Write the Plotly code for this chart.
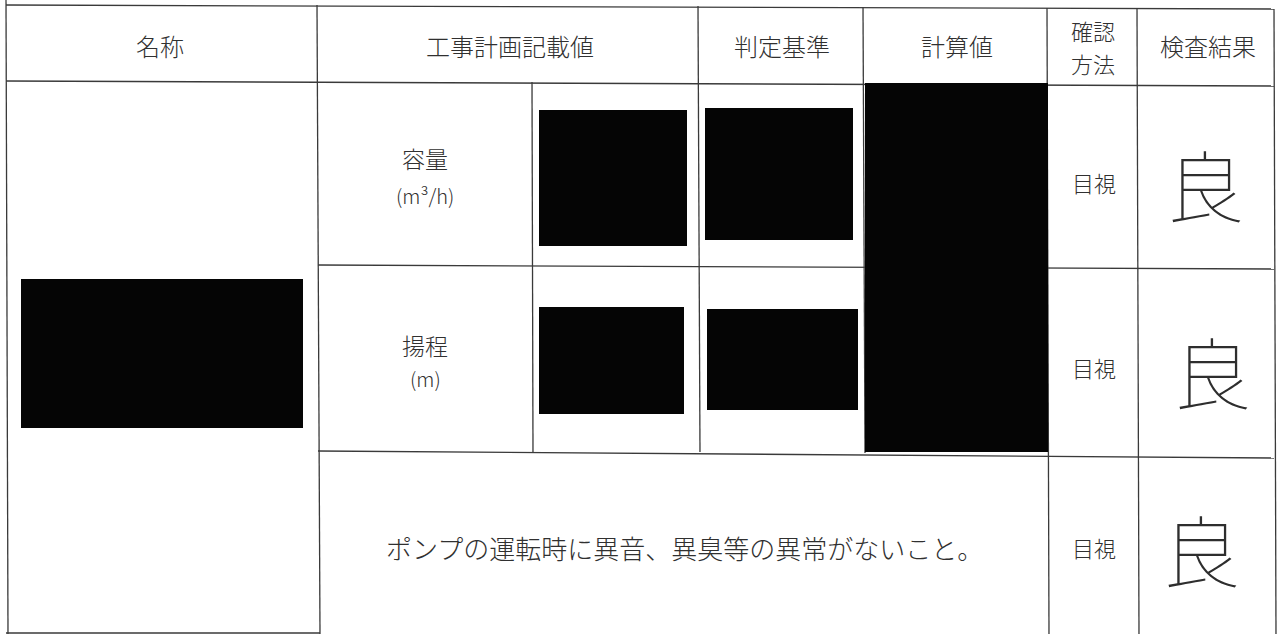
import plotly.graph_objects as go

# ---- table content ----
header_labels = ["名称", "工事計画記載値", "判定基準", "計算値", "検査結果"]
header_method = ["確認", "方法"]
item_names = ["容量", "揚程"]
item_units = ["(m³/h)", "(m)"]
method_labels = ["目視", "目視", "目視"]
result_labels = ["良", "良", "良"]
note_text = "ポンプの運転時に異音、異臭等の異常がないこと。"

W, H = 1279, 634
LINE = "#3a3a3a"
FONT = "Noto Sans CJK JP"
TXT = "#303030"

fig = go.Figure()
shapes = []

def line(x0, y0, x1, y1, w=1.3):
    shapes.append(dict(type="line", xref="x", yref="y", x0=x0, y0=y0, x1=x1, y1=y1,
                       line=dict(color=LINE, width=w)))

def box(x0, y0, x1, y1):
    shapes.append(dict(type="rect", xref="x", yref="y", x0=x0, y0=y0, x1=x1, y1=y1,
                       fillcolor="#050505", line=dict(width=0), layer="above"))

# horizontal rules
line(6, 5, 1274, 9)
line(6, 81, 1274, 86)
line(318, 265, 1274, 269)
line(318, 451, 1274, 458)
line(6, 633, 320, 633)
# vertical rules
line(6, 0, 8, 634)
line(317, 5, 320, 634)
line(532, 82, 533, 452)
line(698, 6, 700, 452)
line(863, 7, 865, 453)
line(1047, 8, 1049, 634)
line(1137, 8, 1139, 634)
line(1274, 9, 1276, 634)

# redacted blocks
box(21, 279, 303, 428)
box(539, 110, 687, 246)
box(705, 108, 853, 240)
box(539, 307, 684, 414)
box(707, 309, 858, 410)
box(865, 83, 1048, 452)

fig.update_layout(shapes=shapes)

ann = []
def text(x, y, t, size=19, color=TXT, weight=300):
    ann.append(dict(x=x, y=y, xref="x", yref="y", text=t, showarrow=False,
                    font=dict(family=FONT, size=size, color=color, weight=weight),
                    xanchor="center", yanchor="middle"))

hx = [160, 510, 782, 957, 1208]
for x, t in zip(hx, header_labels):
    text(x, 45, t, size=24)
text(1093, 30, header_method[0], size=22)
text(1093, 63, header_method[1], size=22)

text(425, 158, item_names[0], size=23)
text(425, 195, item_units[0], size=20)
text(425, 345, item_names[1], size=23)
text(425, 378, item_units[1], size=20)

for y, t in zip([182, 367, 547], method_labels):
    text(1094, y, t, size=22)

for (x, y), t in zip([(1205, 183), (1212, 370), (1201, 548)], result_labels):
    text(x, y, t, size=78, color="#2e2e2e", weight=100)

text(684, 547, note_text, size=26)

fig.update_layout(annotations=ann)

fig.update_xaxes(range=[0, W], visible=False, fixedrange=True)
fig.update_yaxes(range=[H, 0], visible=False, fixedrange=True)
fig.update_layout(width=W, height=H, margin=dict(l=0, r=0, t=0, b=0),
                  paper_bgcolor="white", plot_bgcolor="white", showlegend=False)

fig.write_html("out.html", config={"displayModeBar": False},
               post_script="document.body.style.margin='0';document.body.style.overflow='hidden';")
